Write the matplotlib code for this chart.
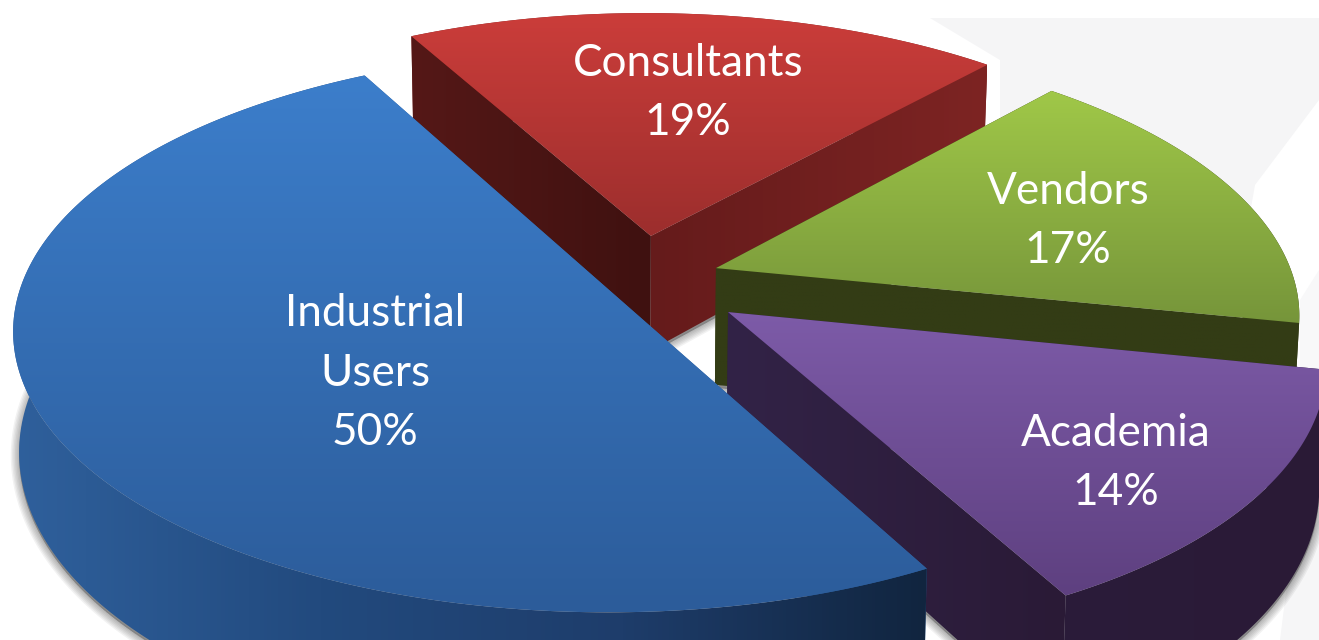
import numpy as np
import matplotlib
matplotlib.use('Agg')
import matplotlib.pyplot as plt
from matplotlib.colors import LinearSegmentedColormap
from matplotlib.patches import Polygon

# clockwise from the far left edge of Consultants
groups = ['Consultants', 'Vendors', 'Academia', 'Industrial\nUsers']
shares = [19.45, 16.55, 14, 50]

# view of the pie plane in pixels
start_angle = 118
cx, cy, rx, ry = 608, 289, 581, 271
persp = 0.15
depth = 118

explode = [(0.076, 0.2016), (0.188, 0.078), (0.204, -0.084), (0, 0)]
radius = [1, 1, 1, 1.012]
top_cols = [['#cb3d3a', '#9c2e2d'], ['#a0c848', '#76953a'],
            ['#7d5ba8', '#5e4080'], ['#3c7ecb', '#2c5c9a']]
arc_cols = [['#7d2423', '#7d2423'], ['#333c15', '#333c15'],
            ['#2b1c3a', '#2a1a36'], ['#2f609c', '#224a7e', '#1e3d6b', '#11253f']]
edge_cols = [(['#551817', '#3f1110'], ['#651b1b', '#7d2423']),
             (['#333c15', '#333c15'], ['#333c15', '#333c15']),
             (['#2b1c3a', '#2b1c3a'], ['#322347', '#2a1a36']),
             (['#2f609c', '#2f609c'], ['#2f609c', '#2f609c'])]
label_pos = [(688, 93), (1068, 221), (1116, 463), (375, 373)]


def project(x, y, z=0.0):
    w = 1 + persp * y
    sx = cx + rx * x / w * (1 - 0.01 * z)
    sy = cy - ry * y / w + depth * z / w
    return np.column_stack([sx, sy])


def gradient(pts, cols, horizontal):
    cmap = LinearSegmentedColormap.from_list('g', cols)
    ramp = np.linspace(0, 1, 256)
    ramp = ramp[None, :] if horizontal else ramp[:, None]
    x0, y0 = pts.min(axis=0)
    x1, y1 = pts.max(axis=0)
    im = ax.imshow(ramp, cmap=cmap, extent=(x0, x1, y1, y0), aspect='auto',
                   vmin=0, vmax=1, interpolation='bilinear', zorder=3)
    patch = Polygon(pts, closed=True, fc='none', ec='none', transform=ax.transData)
    ax.add_patch(patch)
    im.set_clip_path(patch)


fig = plt.figure(figsize=(13.19, 6.4), dpi=100)
ax = fig.add_axes([0, 0, 1, 1])
ax.axis('off')

# faint backdrop in the corner
ax.add_patch(Polygon([(930, 18), (1319, 18), (1319, 100), (1255, 185), (1240, 270),
                      (1000, 300), (1000, 60)], fc='#f5f5f6', ec='none', zorder=0))
ax.add_patch(Polygon([(1300, 300), (1319, 270), (1319, 400), (1300, 400)],
                     fc='#f8f8f9', ec='none', zorder=0))
ax.add_patch(Polygon([(1290, 560), (1319, 520), (1319, 640), (1280, 640)],
                     fc='#f6f6f7', ec='none', zorder=0))

# angles for each wedge
angles = []
a = start_angle
for s in shares:
    angles.append((a, a - s * 3.6))
    a -= s * 3.6

# soft shadows first, so they only land on the background
for (a0, a1), (ox, oy), r in zip(angles, explode, radius):
    t = np.radians(np.linspace(a0, a1, 200))
    under = project(np.r_[ox, ox + r * np.cos(t)], np.r_[oy, oy + r * np.sin(t)], 1.0)
    under[:, 1] += 3
    for lw in [2, 4, 6, 8, 10, 12]:
        ax.add_patch(Polygon(under, fc='k', ec='k', lw=lw, alpha=0.05, zorder=1))

for i, (a0, a1) in enumerate(angles):
    ox, oy = explode[i]
    t = np.radians(np.linspace(a0, a1, 200))
    arc_x, arc_y = ox + radius[i] * np.cos(t), oy + radius[i] * np.sin(t)

    top = project(np.r_[ox, arc_x], np.r_[oy, arc_y])
    arc_wall = np.vstack([project(arc_x, arc_y), project(arc_x, arc_y, 1.0)[::-1]])

    # an arc facing away goes behind the radial faces, one facing us in front
    facing_away = np.sin(np.radians((a0 + a1) / 2)) > 0
    if facing_away:
        gradient(arc_wall, arc_cols[i], True)
    for j, k in enumerate([0, -1]):
        ex, ey = np.r_[ox, arc_x[k]], np.r_[oy, arc_y[k]]
        face = np.vstack([project(ex, ey), project(ex, ey, 1.0)[::-1]])
        gradient(face, edge_cols[i][j], True)
    if not facing_away:
        gradient(arc_wall, arc_cols[i], True)
    gradient(top, top_cols[i], False)

for name, share, (lx, ly) in zip(groups, shares, label_pos):
    ax.text(lx, ly, f'{name}\n{share:.0f}%', color='white', ha='center', va='center',
            family='Lato', fontsize=31.8, linespacing=1.55, zorder=5)

ax.set_xlim(0, 1319)
ax.set_ylim(640, 0)
fig.savefig('out.png', dpi=100)
